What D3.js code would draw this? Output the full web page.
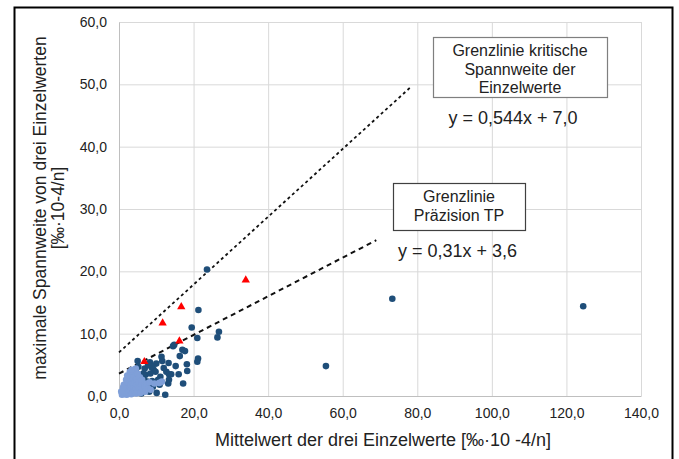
<!DOCTYPE html>
<html>
<head>
<meta charset="utf-8">
<script src="https://cdn.jsdelivr.net/npm/d3@7"></script>
<style>
  body { margin: 0; background: #fff; }
  text { font-family: "Liberation Sans", Arial, sans-serif; fill: #222; }
</style>
</head>
<body>
<div id="chart"></div>
<script>
// data
const xTicks = [0, 20, 40, 60, 80, 100, 120, 140];
const yTicks = [0, 10, 20, 30, 40, 50, 60];

const darkPoints = [
  [23.6,20.3],[21.3,13.8],[19.5,11.0],[21.0,9.3],[26.8,10.3],[26.4,9.4],[14.5,8.0],[17.0,7.4],
  [17.7,7.2],[16.3,6.4],[21.2,6.0],[21.0,5.5],[18.2,5.1],[18.3,4.0],[16.0,3.5],[17.2,2.0],
  [12.4,0.2],[10.1,0.5],[11.4,6.3],[11.6,5.6],[10.0,5.2],[13.3,5.3],[8.3,5.4],[5.0,5.6],
  [8.7,4.6],[9.3,4.2],[12.7,3.9],[13.4,3.5],[11.1,3.1],[10.7,2.3],[13.2,2.0],[10.9,1.8],
  [2.5,2.9],[7.1,3.4],[6.7,2.6],[8.9,2.4],[7.4,1.4],[8.1,0.7],[55.5,4.8],[73.3,15.6],
  [124.5,14.4],[9.0,4.8],[9.8,3.9],[14.0,3.5],[6.5,3.6],[13.4,2.6],[10.5,2.6],[6.5,1.5],
  [5.2,4.7],[6.9,4.4],[8.4,3.6],[7.6,2.3],[9.1,1.5],[6.0,0.4],[14.8,8.2],[4.5,3.9],
  [5.8,3.0],[4.0,2.0],[5.5,1.2],[3.5,0.9],[12.0,4.5],[15.2,4.8],[7.8,5.0]
];
const lightPoints = [
  [0.8,0.2],[1.0,0.5],[1.2,0.9],[1.5,0.3],[1.6,1.2],[1.8,0.6],[2.0,1.6],[2.1,0.2],
  [2.3,1.0],[2.4,2.0],[2.6,0.5],[2.7,1.4],[2.8,2.5],[3.0,0.8],[3.1,1.8],[3.2,3.0],
  [3.3,0.3],[3.4,2.3],[3.5,1.2],[3.6,3.5],[3.7,0.6],[3.8,2.8],[3.9,1.6],[4.0,4.0],
  [4.1,0.9],[4.2,2.1],[4.3,3.2],[4.4,1.3],[4.5,4.4],[4.6,0.4],[4.7,2.6],[4.8,1.8],
  [5.0,3.6],[5.1,0.8],[5.2,2.2],[5.4,1.3],[5.6,3.0],[5.8,0.5],[6.0,1.9],[6.2,2.6],
  [6.4,1.1],[6.8,1.6],[7.0,0.7],[7.3,2.0],[7.8,1.2],[8.2,2.2],[8.5,1.0],[1.3,1.8],
  [1.9,2.6],[2.2,3.3],[1.1,1.4],[2.9,3.9],[3.4,4.2],[9.5,2.0],[11.5,2.3],[10.8,2.1],[0.6,0.7]
];
const redPoints = [[34.0,18.6],[16.7,14.3],[11.7,11.7],[16.2,8.8],[6.8,5.5]];

// limit lines y = a*x + b, drawn over these x ranges
const upperLine = { a: 0.544, b: 7.0, x: [0, 78.5] };
const lowerLine = { a: 0.31, b: 3.6, x: [0, 69] };

const box1Lines = ["Grenzlinie kritische", "Spannweite der", "Einzelwerte"];
const box2Lines = ["Grenzlinie", "Präzision TP"];

const w = 679, h = 459;
const svg = d3.select("#chart").append("svg").attr("width", w).attr("height", h);

const xScale = d3.scaleLinear().domain([0, 140]).range([119, 641]);
const yScale = d3.scaleLinear().domain([0, 60]).range([396, 22]);
const fmt = v => d3.format(".1f")(v).replace(".", ",");

// outer frame
svg.append("rect").attr("x", 14.5).attr("y", 7.5).attr("width", 658).attr("height", 480)
   .attr("fill", "none").attr("stroke", "#000").attr("stroke-width", 2);

// grid
svg.append("g").selectAll("line").data(yTicks).enter().append("line")
   .attr("x1", xScale(0)).attr("x2", xScale(140))
   .attr("y1", d => yScale(d) + 0.5).attr("y2", d => yScale(d) + 0.5)
   .attr("stroke", "#d9d9d9");
svg.append("g").selectAll("line").data(xTicks).enter().append("line")
   .attr("y1", yScale(0)).attr("y2", yScale(60))
   .attr("x1", d => xScale(d) + 0.5).attr("x2", d => xScale(d) + 0.5)
   .attr("stroke", "#d9d9d9");

// axes
const xAxis = d3.axisBottom(xScale).tickValues(xTicks).tickFormat(fmt).tickSize(0).tickPadding(12);
const gx = svg.append("g").attr("transform", "translate(0," + yScale(0) + ")").call(xAxis);
gx.select(".domain").attr("stroke", "#bfbfbf");
gx.selectAll("text").attr("font-size", 14).attr("fill", "#222")
  .attr("font-family", "'Liberation Sans', Arial, sans-serif");

const yAxis = d3.axisLeft(yScale).tickValues(yTicks).tickFormat(fmt).tickSize(0).tickPadding(12);
const gy = svg.append("g").attr("transform", "translate(" + xScale(0) + ",0)").call(yAxis);
gy.select(".domain").attr("stroke", "#bfbfbf");
gy.selectAll("text").attr("font-size", 14).attr("fill", "#222")
  .attr("font-family", "'Liberation Sans', Arial, sans-serif");

// axis titles
svg.append("text").text("Mittelwert der drei Einzelwerte [‰·10 -4/n]")
   .attr("x", 383).attr("y", 446).attr("text-anchor", "middle").attr("font-size", 18);
const yt = svg.append("text").attr("transform", "translate(46,208) rotate(-90)")
   .attr("text-anchor", "middle").attr("font-size", 17.5);
yt.append("tspan").attr("x", 0).attr("y", 0).text("maximale Spannweite von drei Einzelwerten");
yt.append("tspan").attr("x", 0).attr("y", 18).text("[‰·10-4/n]");

// limit lines
const line = d3.line().x(d => xScale(d[0])).y(d => yScale(d[1]));
svg.append("path").datum(upperLine.x.map(x => [x, upperLine.a * x + upperLine.b]))
   .attr("d", line).attr("fill", "none").attr("stroke", "#111")
   .attr("stroke-width", 1.8).attr("stroke-dasharray", "3,3");
svg.append("path").datum(lowerLine.x.map(x => [x, lowerLine.a * x + lowerLine.b]))
   .attr("d", line).attr("fill", "none").attr("stroke", "#111")
   .attr("stroke-width", 2).attr("stroke-dasharray", "5,4");

// points
svg.append("g").selectAll("circle").data(darkPoints).enter().append("circle")
   .attr("cx", d => xScale(d[0])).attr("cy", d => yScale(d[1])).attr("r", 3.3)
   .attr("fill", "#1f4e79");
svg.append("g").selectAll("circle").data(lightPoints).enter().append("circle")
   .attr("cx", d => xScale(d[0])).attr("cy", d => yScale(d[1])).attr("r", 3.3)
   .attr("fill", "#7f9fd8");
svg.append("g").selectAll("path").data(redPoints).enter().append("path")
   .attr("d", d3.symbol().type(d3.symbolTriangle).size(30))
   .attr("transform", d => "translate(" + xScale(d[0]) + "," + yScale(d[1]) + ")")
   .attr("fill", "#ff0000");

// annotation boxes
function box(x, y, bw, bh, lines, stroke, cx, y0) {
  svg.append("rect").attr("x", x + 0.5).attr("y", y + 0.5).attr("width", bw).attr("height", bh)
     .attr("fill", "#fff").attr("stroke", stroke).attr("stroke-width", 1.2);
  svg.append("g").selectAll("text").data(lines).enter().append("text")
     .attr("x", cx).attr("y", (d, i) => y0 + i * 18.5).attr("text-anchor", "middle")
     .attr("font-size", 16).text(d => d);
}
box(433, 37, 174, 60, box1Lines, "#7f7f7f", 520, 56);
box(393, 183, 132, 47, box2Lines, "#404040", 459, 202);

svg.append("text").text("y = 0,544x + 7,0").attr("x", 513).attr("y", 124)
   .attr("text-anchor", "middle").attr("font-size", 18);
svg.append("text").text("y = 0,31x + 3,6").attr("x", 398).attr("y", 257)
   .attr("font-size", 18);
</script>
</body>
</html>
